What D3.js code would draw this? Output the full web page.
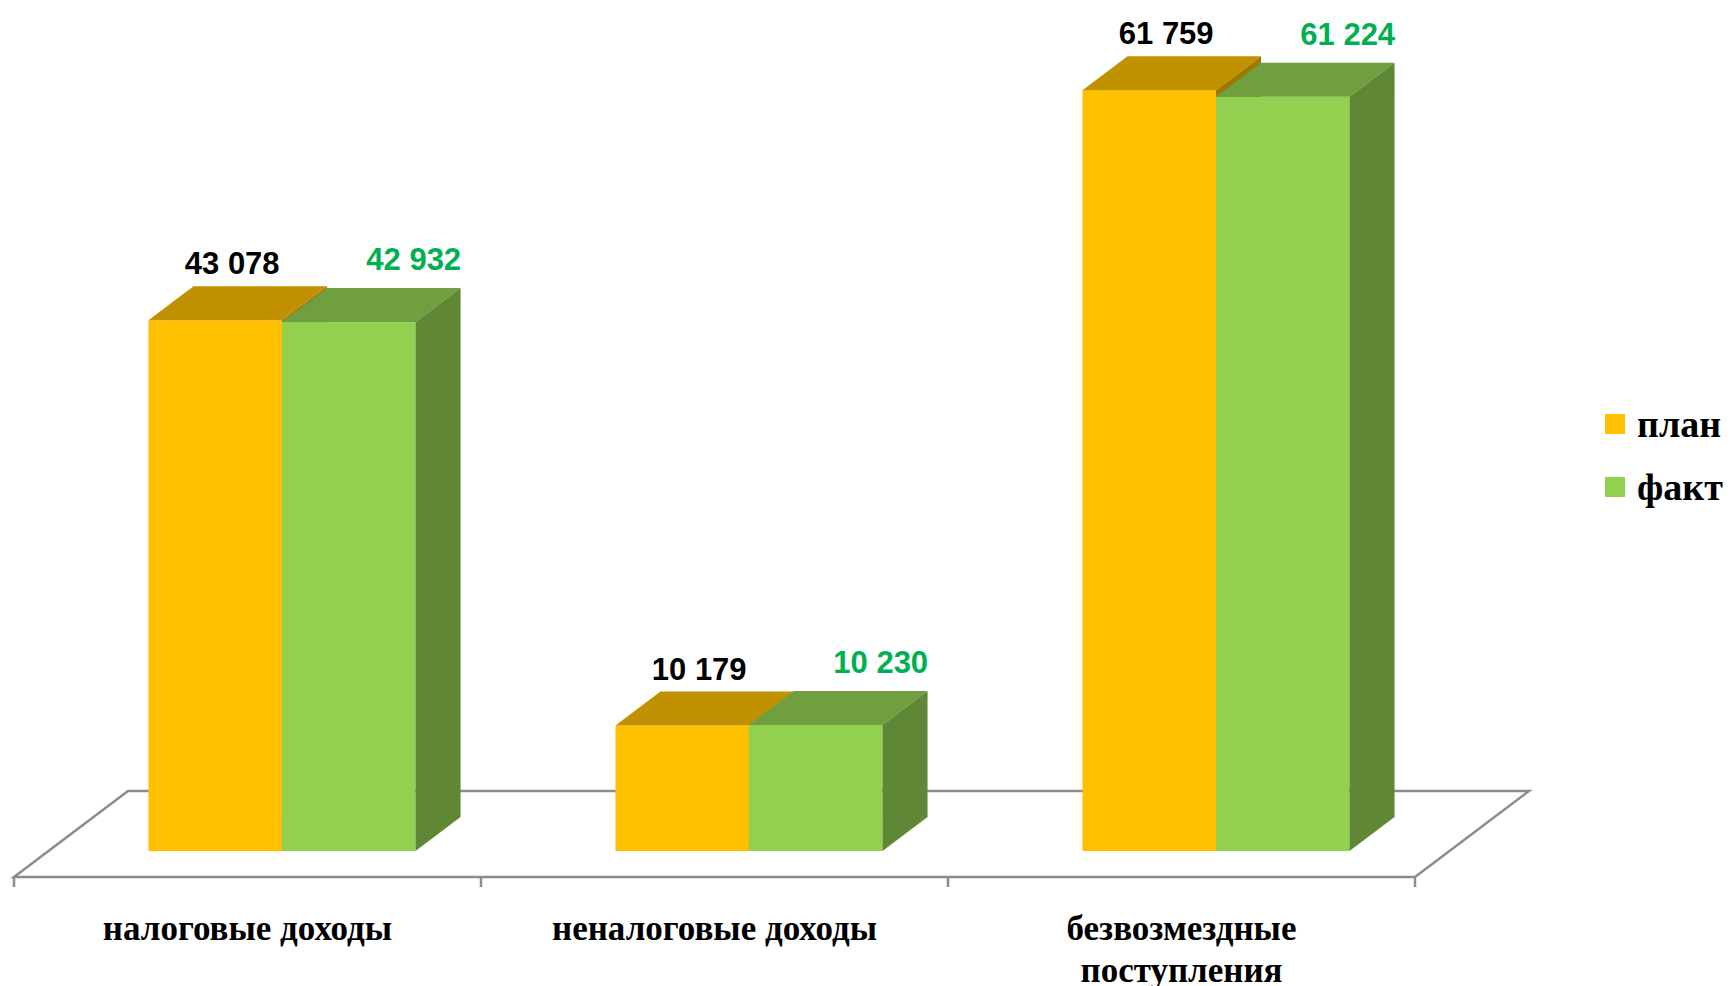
<!DOCTYPE html>
<html>
<head>
<meta charset="utf-8">
<script src="https://cdn.jsdelivr.net/npm/d3@7"></script>
<style>
  html, body { margin: 0; padding: 0; background: #ffffff; }
  svg { display: block; }
</style>
</head>
<body>
<svg id="chart" width="1732" height="986"></svg>
<script>
// ---- data ----
const categories = ["налоговые доходы", "неналоговые доходы", "безвозмездные\nпоступления"];
const seriesNames = ["план", "факт"];
const planValues = [43078, 10179, 61759];
const factValues = [42932, 10230, 61224];

// ---- layout ----
const svg = d3.select("#chart");
const floorFrontY = 877, floorDepth = 86, slope = 114 / 86;
const barFrontDepth = 26, barDepth = 34;
const baseY = floorFrontY - barFrontDepth;
const shiftX = barFrontDepth * slope;
const bdx = barDepth * slope, bdy = barDepth;

const x = d3.scaleBand().domain(categories).range([14, 1415]).padding(0);
const h = d3.scaleLinear().domain([0, 60000]).range([0, 739.2]);
const barW = x.bandwidth() * 0.2859;

const colors = {
  "план": { front: "#ffc000", top: "#c09100", side: "#a07800", label: "#000000" },
  "факт": { front: "#92d050", top: "#6f9f3f", side: "#5f8735", label: "#00b050" }
};

const fmt = d3.formatLocale({ decimal: ",", thousands: " ", grouping: [3], currency: ["", ""] }).format(",d");

// ---- floor ----
const fx0 = x.range()[0], fx1 = x.range()[1];
const fdx = floorDepth * slope;
const floor = svg.append("g").attr("fill", "none").attr("stroke", "#8c8c8c").attr("stroke-width", 2.5);
floor.append("path")
  .attr("d", `M${fx0},${floorFrontY} L${fx0 + fdx},${floorFrontY - floorDepth} L${fx1 + fdx},${floorFrontY - floorDepth} L${fx1},${floorFrontY} Z`)
  .attr("stroke-linejoin", "miter");
const tickXs = categories.map(c => x(c)).concat([fx1]);
floor.selectAll("line.tick").data(tickXs).enter().append("line")
  .attr("x1", d => d).attr("x2", d => d)
  .attr("y1", floorFrontY).attr("y2", floorFrontY + 10);

// ---- bars ----
function drawBar(g, x0, w, hh, c) {
  const yt = baseY - hh;
  g.append("rect").attr("x", x0).attr("y", yt).attr("width", w).attr("height", hh).attr("fill", c.front);
  g.append("polygon")
    .attr("points", [[x0, yt], [x0 + w, yt], [x0 + w + bdx, yt - bdy], [x0 + bdx, yt - bdy]].map(p => p.join(",")).join(" "))
    .attr("fill", c.top);
  g.append("polygon")
    .attr("points", [[x0 + w, yt], [x0 + w + bdx, yt - bdy], [x0 + w + bdx, baseY - bdy], [x0 + w, baseY]].map(p => p.join(",")).join(" "))
    .attr("fill", c.side);
}

const bars = svg.append("g");
const labels = svg.append("g")
  .attr("font-family", "'Liberation Sans', Arial, sans-serif")
  .attr("font-weight", "bold").attr("font-size", 31).attr("text-anchor", "middle");

categories.forEach((cat, i) => {
  const center = x(cat) + x.bandwidth() / 2 + shiftX;
  const g = bars.append("g");
  const ph = h(planValues[i]), fh = h(factValues[i]);
  drawBar(g, center - barW, barW, ph, colors["план"]);
  drawBar(g, center, barW, fh, colors["факт"]);
  labels.append("text")
    .attr("x", center - barW / 2 + 17).attr("y", baseY - ph - 46)
    .attr("fill", colors["план"].label).text(fmt(planValues[i]));
  labels.append("text")
    .attr("x", center + barW / 2 + 65).attr("y", baseY - fh - 52)
    .attr("fill", colors["факт"].label).text(fmt(factValues[i]));
});

// ---- category labels ----
const catG = svg.append("g")
  .attr("font-family", "'Liberation Serif', 'Times New Roman', serif")
  .attr("font-weight", "bold").attr("font-size", 35).attr("text-anchor", "middle").attr("fill", "#000");
categories.forEach(cat => {
  const cx = x(cat) + x.bandwidth() / 2;
  cat.split("\n").forEach((line, j) => {
    catG.append("text").attr("x", cx).attr("y", 940 + j * 42).text(line);
  });
});

// ---- legend ----
const legend = svg.append("g");
seriesNames.forEach((s, i) => {
  const ly = 414 + i * 63;
  legend.append("rect").attr("x", 1605).attr("y", ly).attr("width", 20).attr("height", 20).attr("fill", colors[s].front);
  legend.append("text").attr("x", 1637).attr("y", ly + 23)
    .attr("font-family", "'Liberation Serif', 'Times New Roman', serif")
    .attr("font-weight", "bold").attr("font-size", 38).attr("fill", "#000").text(s);
});
</script>
</body>
</html>
